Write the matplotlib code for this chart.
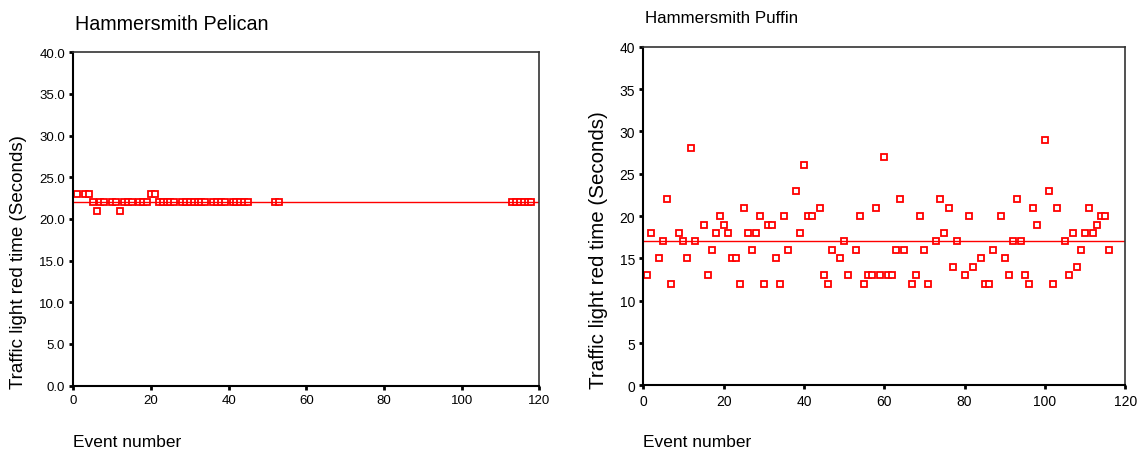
import matplotlib
matplotlib.use("Agg")
import matplotlib.pyplot as plt
import numpy as np

plt.rcParams['font.family'] = ['Liberation Sans', 'DejaVu Sans']

# Hammersmith Pelican: event number -> red time (s)
pel_event = [1, 3, 4, 5, 6, 7, 8, 10, 11, 12, 13, 14, 15, 17, 18, 19, 20, 21, 22, 23,
             24, 25, 26, 28, 29, 30, 31, 32, 33, 34, 36, 37, 38, 39, 41, 42, 43, 44, 45,
             52, 53, 113, 114, 115, 116, 117, 118]
pel_time = [23, 23, 23, 22, 21, 22, 22, 22, 22, 21, 22, 22, 22, 22, 22, 22, 23, 23, 22, 22,
            22, 22, 22, 22, 22, 22, 22, 22, 22, 22, 22, 22, 22, 22, 22, 22, 22, 22, 22,
            22, 22, 22, 22, 22, 22, 22, 22]

# Hammersmith Puffin
puf_event = [1, 2, 4, 5, 6, 7, 9, 10, 11, 12, 13, 15, 16, 17, 18, 19, 20, 21, 22, 23,
             24, 25, 26, 27, 28, 29, 30, 31, 32, 33, 34, 35, 36, 38, 39, 40, 41, 42, 44,
             45, 46, 47, 49, 50, 51, 53, 54, 55, 56, 57, 58, 59, 60, 61, 62, 63, 64, 65,
             67, 68, 69, 70, 71, 73, 74, 75, 76, 77, 78, 80, 81, 82, 84, 85, 86, 87, 89,
             90, 91, 92, 93, 94, 95, 96, 97, 98, 100, 101, 102, 103, 105, 106, 107, 108,
             109, 110, 111, 112, 113, 114, 115, 116]
puf_time = [13, 18, 15, 17, 22, 12, 18, 17, 15, 28, 17, 19, 13, 16, 18, 20, 19, 18, 15, 15,
            12, 21, 18, 16, 18, 20, 12, 19, 19, 15, 12, 20, 16, 23, 18, 26, 20, 20, 21,
            13, 12, 16, 15, 17, 13, 16, 20, 12, 13, 13, 21, 13, 27, 13, 13, 16, 22, 16,
            12, 13, 20, 16, 12, 17, 22, 18, 21, 14, 17, 13, 20, 14, 15, 12, 12, 16, 20,
            15, 13, 17, 22, 17, 13, 12, 21, 19, 29, 23, 12, 21, 17, 13, 18, 14,
            16, 18, 21, 18, 19, 20, 20, 16]

yticks = np.arange(0, 41, 5)

# title, x, y, ytick labels, axes rect, title pos, title size, ylabel x, ylabel size, tick size
panels = [
    ("Hammersmith Pelican", pel_event, pel_time, ["%.1f" % v for v in yticks],
     [0.0642, 0.1445, 0.408, 0.738], (0.066, 0.945), 14.2, 0.016, 13.5, 9.5),
    ("Hammersmith Puffin", puf_event, puf_time, ["%d" % v for v in yticks],
     [0.5633, 0.1453, 0.422, 0.749], (0.565, 0.958), 12.2, 0.524, 14.8, 10),
]

fig = plt.figure(figsize=(11.42, 4.52), dpi=100)

for title, ev, tm, ylabs, rect, tpos, tsize, ylx, ysize, ksize in panels:
    ax = fig.add_axes(rect)
    ax.plot(ev, tm, linestyle="none", marker="s", markersize=5,
            markerfacecolor="white", markeredgecolor="red", markeredgewidth=1.3)
    ax.axhline(np.mean(tm), color="red", linewidth=1)
    ax.set_xlim(0, 120)
    ax.set_ylim(0, 40)
    ax.set_xticks(np.arange(0, 121, 20))
    ax.set_yticks(yticks)
    ax.set_yticklabels(ylabs)
    ax.tick_params(direction="out", length=3, width=2, labelsize=ksize, pad=3)
    for s in ["left", "bottom"]:
        ax.spines[s].set_linewidth(1.5)
        ax.spines[s].set_color("black")
    for s in ["top", "right"]:
        ax.spines[s].set_linewidth(1.2)
        ax.spines[s].set_color("#333333")
    fig.text(tpos[0], tpos[1], title, fontsize=tsize, ha="left", va="center")
    fig.text(rect[0], 0.022, "Event number", fontsize=12.5, ha="left", va="center")
    fig.text(ylx, 0.14, "Traffic light red time (Seconds)", fontsize=ysize,
             rotation=90, ha="center", va="bottom")

fig.savefig("out.png", dpi=100)
